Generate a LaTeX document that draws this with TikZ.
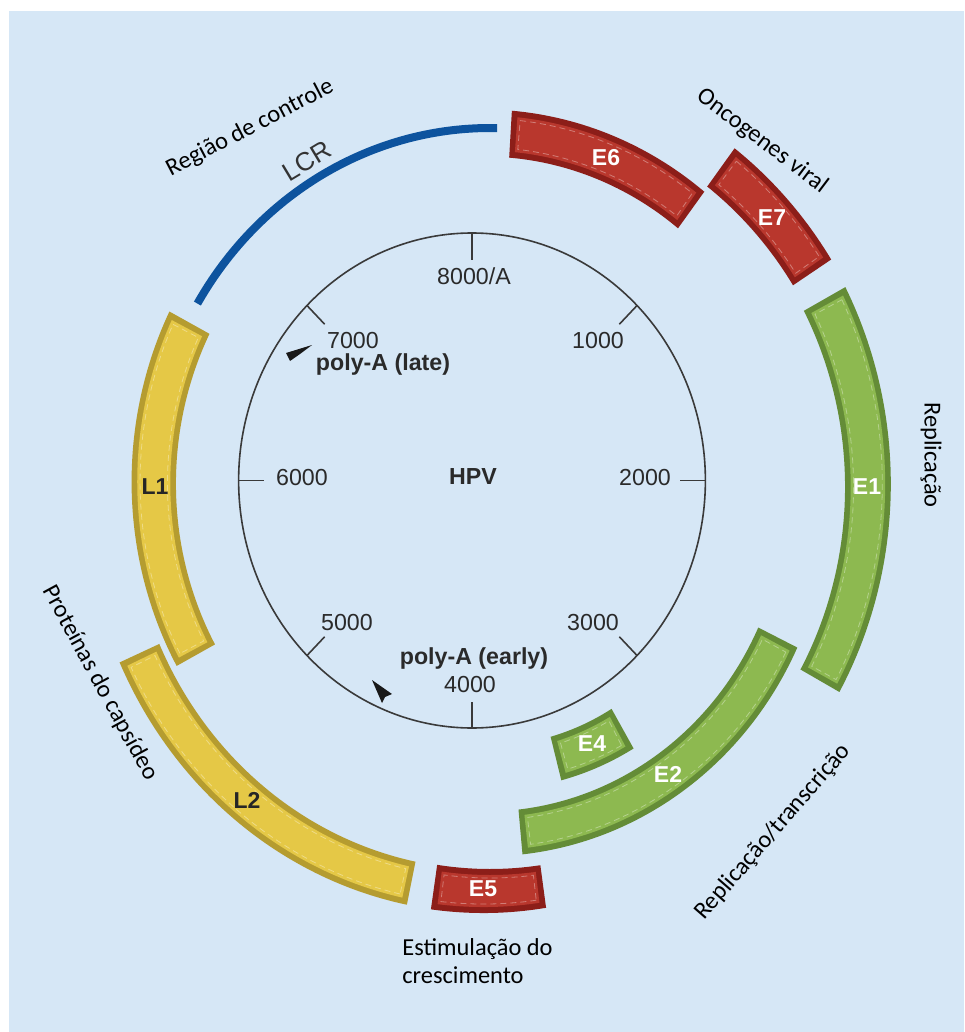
\documentclass[tikz,border=0pt]{standalone}
\usepackage{fontspec}
\setmainfont{Liberation Sans}
\newfontfamily\calfont{Carlito}
\definecolor{bgblue}{HTML}{D6E7F6}
\definecolor{linegray}{HTML}{3A3A3A}
\definecolor{numgray}{HTML}{2A2A2A}
\definecolor{redbody}{HTML}{B9372D}
\definecolor{redrim}{HTML}{8C1E19}
\definecolor{grnbody}{HTML}{8DB950}
\definecolor{grnrim}{HTML}{648C37}
\definecolor{ylwbody}{HTML}{E5C846}
\definecolor{ylwrim}{HTML}{B59C30}
\definecolor{lcrblue}{HTML}{0D539E}
% #1 start angle, #2 end angle, #3 inner r at start, #4 outer r at start,
% #5 inner r at end, #6 outer r at end, #7 body colour, #8 rim colour
\newcommand\genebox[8]{%
  \def\gA{#1}\def\gB{#2}%
  \def\gIs{#3}\def\gOs{#4}\def\gIe{#5}\def\gOe{#6}%
  \fill[#8] plot[domain=#1:#2,samples=60] (\x:{\gOs+(\gOe-\gOs)*(\x-\gA)/(\gB-\gA)})
     -- plot[domain=#2:#1,samples=60] (\x:{\gIs+(\gIe-\gIs)*(\x-\gA)/(\gB-\gA)}) -- cycle;
  \pgfmathsetmacro\gda{6/((#3+#4)/2)*57.2958}%
  \pgfmathsetmacro\gia{#1-\gda}%
  \pgfmathsetmacro\gib{#2+\gda}%
  \fill[#7] plot[domain=\gia:\gib,samples=60] (\x:{\gOs-6+(\gOe-\gOs)*(\x-\gA)/(\gB-\gA)})
     -- plot[domain=\gib:\gia,samples=60] (\x:{\gIs+6+(\gIe-\gIs)*(\x-\gA)/(\gB-\gA)}) -- cycle;
  \pgfmathsetmacro\gda{9/((#3+#4)/2)*57.2958}%
  \pgfmathsetmacro\gia{#1-\gda}%
  \pgfmathsetmacro\gib{#2+\gda}%
  \draw[white, opacity=0.35, line width=0.4pt, dash pattern=on 3pt off 2pt]
     plot[domain=\gia:\gib,samples=60] (\x:{\gOs-9+(\gOe-\gOs)*(\x-\gA)/(\gB-\gA)})
     -- plot[domain=\gib:\gia,samples=60] (\x:{\gIs+9+(\gIe-\gIs)*(\x-\gA)/(\gB-\gA)}) -- cycle;
}
\begin{document}
\begin{tikzpicture}[x=0.5pt,y=-0.5pt,
  num/.style={font=\fontsize{11.6}{14}\selectfont, text=numgray, inner sep=0pt},
  bnum/.style={font=\fontsize{11.6}{14}\selectfont\bfseries, text=numgray, inner sep=0pt},
  glab/.style={font=\fontsize{11.5}{14}\selectfont\bfseries, text=white, inner sep=0pt},
  ylab/.style={glab, text=black!85},
  note/.style={font=\calfont\fontsize{12.2}{14}\selectfont, text=black, inner sep=0pt},
  tk/.style={draw=linegray, line width=0.8pt},
]
\useasboundingbox (0,0) rectangle (964,1032);
\fill[white] (0,0) rectangle (964,1032);
\fill[bgblue] (9,11) rectangle (964,1032);

% inner circle with ticks
\begin{scope}[shift={(472,480.5)}, x=0.4715pt, y=0.5pt]
  \draw[linegray, line width=0.8pt] plot[domain=0:360, samples=181, smooth] (\x:247.5) -- cycle;
  \foreach \a in {0,45,...,315} { \draw[tk] (\a:247.5) -- (\a:221); }
\end{scope}

% genes
\begin{scope}[shift={(490,490)}, x=0.4715pt, y=0.5pt]
  \genebox{86.5}{52.7}{333}{380}{329}{375}{redbody}{redrim}     % E6
  \genebox{52.8}{32.5}{381}{429}{381}{429}{redbody}{redrim}     % E7
  \genebox{28.3}{-28.6}{378}{428}{375}{422}{grnbody}{grnrim}    % E1
  \genebox{-25.8}{-84.6}{316}{362}{321}{366}{grnbody}{grnrim}   % E2
  \genebox{-59.5}{-75.4}{254}{300}{255}{300}{grnbody}{grnrim}   % E4
  \genebox{-81.9}{-98.5}{379}{422}{379}{424}{redbody}{redrim}   % E5
  \genebox{-102}{-156.3}{380}{424}{383}{429}{ylwbody}{ylwrim}   % L2
  \genebox{-152.1}{-207.7}{330}{376}{336}{384}{ylwbody}{ylwrim} % L1
  \draw[lcrblue, line width=4pt] plot[domain=-211:-271.2, samples=80] (\x:362);
\end{scope}

% poly-A arrows
\fill[black!90] (286,353) -- (312,345) -- (300,354) -- (290,361) -- cycle;
\fill[black!90] (372,680) -- (392,694) -- (385,697) -- (382,703) -- cycle;

% inner labels
\node[bnum] (hpv) at (473,477) {HPV};
\node[num] (n8) at (474,276) {8000/A};
\node[num] (n1) at (598,341) {1000};
\node[num] (n2) at (645,478) {2000};
\node[num] (n3) at (593,623) {3000};
\node[num] (n4) at (470,685) {4000};
\node[num] (n5) at (347,623) {5000};
\node[num] (n6) at (302,478) {6000};
\node[num] (n7) at (353,341) {7000};
\node[bnum] (pal) at (383,365) {poly-A (late)};
\node[bnum] (pae) at (474,658) {poly-A (early)};

% gene labels
\node[glab] (le6) at (606,158) {E6};
\node[glab] (le7) at (772,218) {E7};
\node[glab] (le1) at (867,487) {E1};
\node[glab] (le2) at (668,774) {E2};
\node[glab] (le4) at (592,744) {E4};
\node[glab] (le5) at (483,889) {E5};
\node[ylab] (ll2) at (247,800) {L2};
\node[ylab] (ll1) at (155,487) {L1};
\node[font=\fontsize{13}{16}\selectfont, text=black!80, inner sep=0pt, rotate=31] (llcr) at (307,161) {LCR};

% annotations
\node[note, rotate=27.5] (reg) at (250,128) {Região de controle};
\node[note, rotate=-37] (onc) at (762,141) {Oncogenes viral};
\node[note, rotate=-90] (rep) at (931,455) {Replicação};
\node[note, rotate=49] (rept) at (773,832) {Replicação/transcrição};
\node[note, rotate=-61.5] (prot) at (100,683) {Proteínas do capsídeo};
\node[note, anchor=base west] (est1) at (402,955) {Estimulação do};
\node[note, anchor=base west] (est2) at (402,983) {crescimento};
\end{tikzpicture}
\end{document}
